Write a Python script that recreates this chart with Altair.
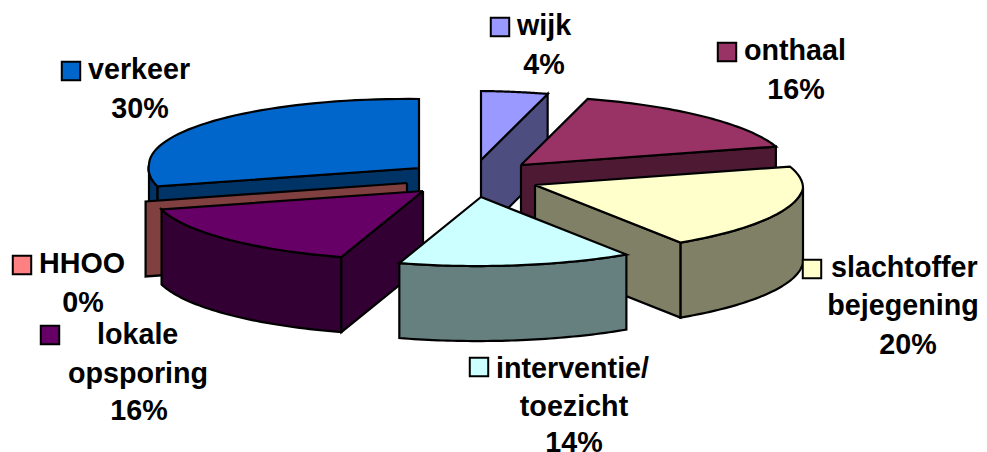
import math
import altair as alt
import pandas as pd

# Chart values
categories = ["wijk", "onthaal", "slachtoffer bejegening", "interventie/toezicht", "lokale opsporing", "HHOO", "verkeer"]
shares = [4, 16, 20, 14, 16, 0, 30]
top_colors = ["#9999ff", "#993366", "#ffffcc", "#ccffff", "#660066", "#ff8080", "#0066cc"]
side_colors = ["#4d4d80", "#4d1933", "#808066", "#668080", "#330033", "#804040", "#003366"]
apex_x = [481, 521, 535, 481, 423, 407, 419]
apex_y = [160, 165, 185, 197, 191, 183, 168]
draw_order = ["verkeer", "HHOO", "wijk", "onthaal", "slachtoffer bejegening", "lokale opsporing", "interventie/toezicht"]

label_text = ["wijk", "4%", "onthaal", "16%", "slachtoffer", "bejegening", "20%", "interventie/", "toezicht", "14%",
              "lokale", "opsporing", "16%", "HHOO", "0%", "verkeer", "30%"]
label_x = [517, 544, 744, 796, 831, 903, 908, 496, 574, 574, 97, 138, 139, 39, 83, 88, 140]
label_y = [35, 74, 60, 99, 277, 315, 354, 378, 416, 452, 344, 383, 420, 273, 312, 79, 118]
label_align = ["left", "center", "left", "center", "left", "center", "center", "left", "center", "center",
               "left", "center", "center", "left", "center", "left", "center"]
key_x = [500, 727, 812, 479, 50, 22, 71]
key_y = [27, 52, 269, 367, 335, 265, 71]

RX_RIGHT, RX_LEFT, RY, THICK, SHEAR_X, SHEAR_Y = 268, 270, 69, 75, 15, 3


def rim(i, deg):
    t = math.radians(deg)
    s = math.sin(t)
    return (apex_x[i] + (RX_RIGHT if s > 0 else RX_LEFT) * s + SHEAR_X * min(math.cos(t), 0),
            apex_y[i] - RY * math.cos(t) + SHEAR_Y * s)


def arc(i, a, b, n=48):
    return [rim(i, a + (b - a) * k / n) for k in range(n + 1)]


starts, run = [], 0
for s in shares:
    starts.append(run * 3.6)
    run += s

rows = []
pid = 0


def poly(pts, fill):
    global pid
    pts = list(pts) + [pts[0]]
    for k, (x, y) in enumerate(pts):
        rows.append(dict(pid=f"p{pid:03d}", k=k, x=x, y=y, fill=fill))
    pid += 1


# which wedge edge shows its straight cut face: "start" or "end" of the wedge
cut_edge = {"verkeer": "start", "HHOO": "start", "wijk": "end", "onthaal": "end",
            "slachtoffer bejegening": "end", "lokale opsporing": "start"}

for name in draw_order:
    i = categories.index(name)
    a, b = starts[i], starts[i] + shares[i] * 3.6
    apex = (apex_x[i], apex_y[i])
    side = side_colors[i]
    lo, hi = max(a, 90), min(b, 270)
    if hi > lo and shares[i] > 0:
        curve = arc(i, lo, hi)
        poly(curve + [(x, y + THICK) for x, y in reversed(curve)], side)
    if name in cut_edge:
        e = rim(i, a if cut_edge[name] == "start" else b)
        poly([apex, e, (e[0], e[1] + THICK), (apex[0], apex[1] + THICK)], side)
    if shares[i] > 0:
        poly([apex] + arc(i, a, b), top_colors[i])

df = pd.DataFrame(rows)
x_s = alt.Scale(domain=[8, 979], nice=False, zero=False)
y_s = alt.Scale(domain=[444, 8], nice=False, zero=False)
X = alt.X("x:Q", scale=x_s, axis=None)
Y = alt.Y("y:Q", scale=y_s, axis=None)

pie = alt.Chart(df).mark_line(stroke="black", strokeWidth=2.2, strokeJoin="miter", interpolate="linear").encode(
    x=X, y=Y, order="k:Q", detail="pid:N", fill=alt.Fill("fill:N", scale=None)
)

keys_df = pd.DataFrame({"x": key_x, "y": key_y, "cat": categories,
                        "fill": top_colors})
keys = alt.Chart(keys_df).mark_square(size=340, opacity=1, stroke="black", strokeWidth=2).encode(
    x=X, y=Y, fill=alt.Fill("fill:N", scale=None)
)

labels_df = pd.DataFrame({"x": label_x, "y": label_y, "t": label_text, "a": label_align})
layers = [pie, keys]
for al in ("left", "center"):
    layers.append(
        alt.Chart(labels_df[labels_df.a == al]).mark_text(
            font="Liberation Sans", fontWeight="bold", fontSize=28.7, color="black",
            align=al, baseline="alphabetic"
        ).encode(x=X, y=Y, text="t:N")
    )

chart = alt.layer(*layers).properties(
    width=971, height=436, padding={"left": 0, "top": 0, "right": 0, "bottom": 8},
    autosize=alt.AutoSizeParams(type="none")
).configure_view(stroke=None)

chart.save("out.html", embed_options={"renderer": "svg", "actions": False})
